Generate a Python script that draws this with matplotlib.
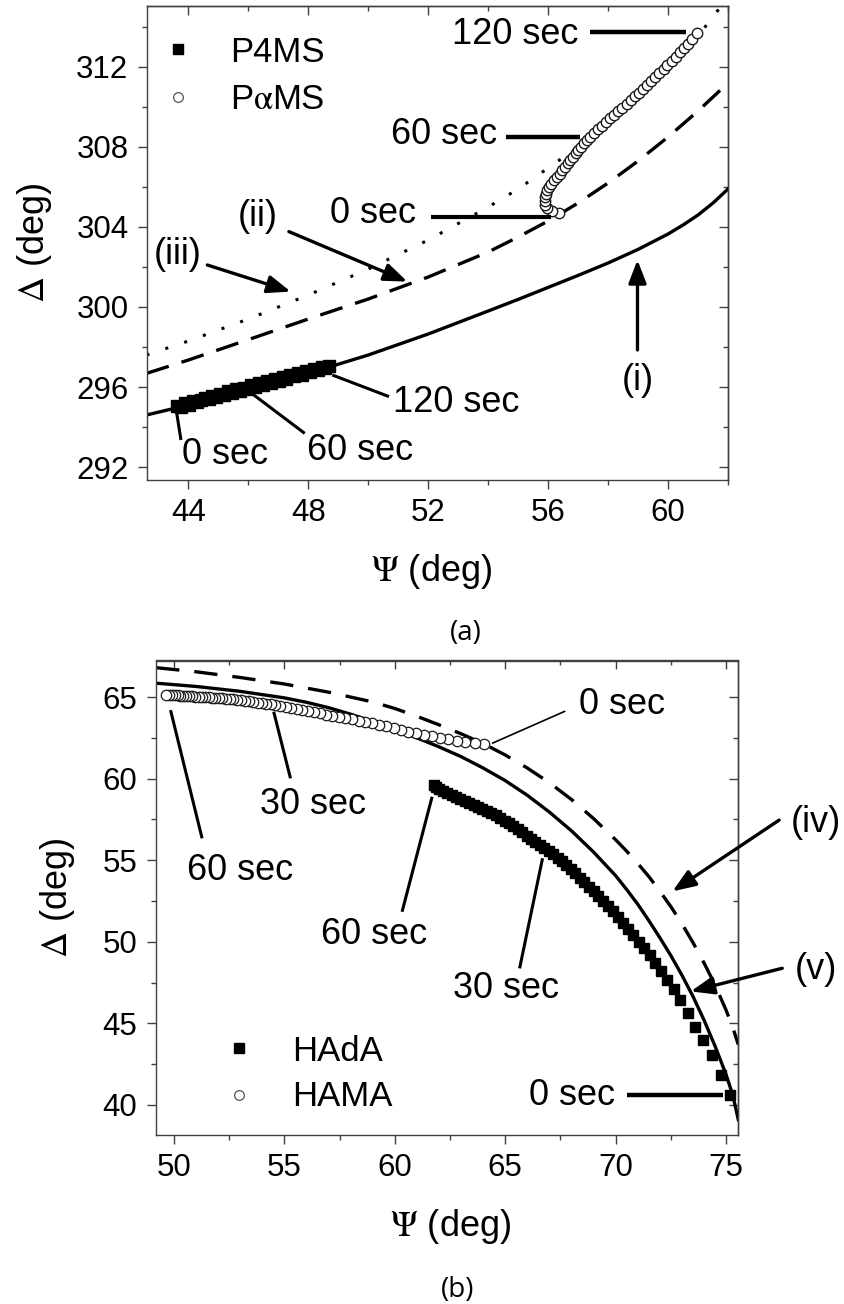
import matplotlib
matplotlib.use('Agg')
import matplotlib.pyplot as plt
from matplotlib.ticker import MultipleLocator, NullFormatter

plt.rcParams['font.family'] = ['Liberation Sans', 'DejaVu Sans']
plt.rcParams['mathtext.fontset'] = 'stix'

# ---- panel (a): P4MS / PaMS ----
psi_i = [42.6, 44, 46, 48, 50, 52, 54, 55, 56, 57, 58, 59, 60, 60.5, 61, 61.5, 62]
delta_i = [294.6, 295.1, 295.85, 296.68, 297.6, 298.65, 299.8, 300.38, 300.98, 301.58, 302.2,
           302.88, 303.65, 304.1, 304.6, 305.2, 305.9]

psi_ii = [42.6, 44, 46, 48, 50, 52, 54, 55, 56, 57, 58, 59, 60, 61, 62]
delta_ii = [296.68, 297.35, 298.37, 299.4, 300.4, 301.5, 302.75, 303.5, 304.3, 305.2, 306.2,
            307.3, 308.5, 309.8, 311.2]

psi_iii = [42.6, 44, 46, 48, 50, 52, 54, 55, 56, 57, 58, 59, 60, 61, 61.75]
delta_iii = [297.6, 298.3, 299.4, 300.6, 301.9, 303.35, 305.0, 305.9, 306.95, 308.0, 309.2,
             310.5, 311.95, 313.55, 315.0]

p4ms_psi = [43.63, 43.76, 43.89, 44.02, 44.15, 44.28, 44.41, 44.54, 44.67, 44.80,
            44.93, 45.06, 45.19, 45.32, 45.45, 45.58, 45.71, 45.84, 45.97, 46.10,
            46.23, 46.36, 46.49, 46.62, 46.75, 46.88, 47.01, 47.14, 47.27, 47.40,
            47.53, 47.66, 47.79, 47.92, 48.05, 48.18, 48.31, 48.44, 48.57, 48.69]
p4ms_delta = [295.05, 295.00, 295.20, 295.12, 295.32, 295.25, 295.35, 295.47, 295.38, 295.57,
              295.50, 295.66, 295.61, 295.78, 295.71, 295.88, 295.82, 295.97, 295.91, 296.09,
              296.02, 296.18, 296.10, 296.29, 296.20, 296.40, 296.32, 296.49, 296.42, 296.60,
              296.53, 296.70, 296.62, 296.81, 296.74, 296.92, 296.84, 297.01, 296.95, 297.06]

pams_psi = [56.35, 56.12, 55.97, 55.90, 55.88, 55.89, 55.92, 55.96, 56.02,
            56.11, 56.20, 56.29, 56.38, 56.47, 56.56, 56.65, 56.74, 56.83, 56.92,
            57.01, 57.10, 57.19, 57.29, 57.38,
            57.52, 57.66, 57.79, 57.93, 58.07, 58.20, 58.34, 58.48, 58.62, 58.75,
            58.89, 59.03, 59.16, 59.30, 59.44, 59.57, 59.71, 59.85, 59.98, 60.12,
            60.26, 60.40, 60.53, 60.67, 60.81, 60.95]
pams_delta = [304.68, 304.80, 304.95, 305.12, 305.30, 305.48, 305.66, 305.84, 305.99,
              306.16, 306.33, 306.50, 306.67, 306.84, 307.01, 307.18, 307.35, 307.52, 307.69,
              307.86, 308.02, 308.19, 308.36, 308.52,
              308.71, 308.89, 309.07, 309.25, 309.43, 309.61, 309.79, 309.97, 310.16, 310.34,
              310.53, 310.72, 310.91, 311.10, 311.30, 311.50, 311.70, 311.90, 312.10, 312.31,
              312.52, 312.73, 312.95, 313.17, 313.42, 313.68]

# ---- panel (b): HAdA / HAMA ----
psi_v = [49.2, 51, 53, 55, 56, 57, 58, 59, 60, 61, 62, 63, 64, 65, 66, 67, 68, 69, 70,
         70.5, 71, 71.5, 72, 72.5, 73, 73.5, 74, 74.5, 75, 75.3, 75.55]
delta_v = [65.85, 65.65, 65.35, 64.95, 64.68, 64.35, 63.95, 63.5, 63.02, 62.5, 61.95, 61.35,
           60.65, 59.88, 58.98, 57.95, 56.8, 55.5, 54.05, 53.2, 52.3, 51.3, 50.25, 49.15,
           47.95, 46.65, 45.2, 43.6, 41.85, 40.6, 39.1]

psi_iv = [49.2, 51, 53, 55, 57, 59, 60, 61, 62, 63, 64, 65, 66, 67, 68, 69, 70, 70.5, 71,
          71.5, 72, 72.5, 73, 73.5, 74, 74.5, 75, 75.3, 75.55]
delta_iv = [66.8, 66.55, 66.2, 65.8, 65.3, 64.7, 64.3, 63.82, 63.3, 62.75, 62.15, 61.45, 60.65,
            59.75, 58.72, 57.55, 56.25, 55.55, 54.8, 54.0, 53.1, 52.15, 51.1, 49.95, 48.7,
            47.35, 45.8, 44.75, 43.7]

hama_psi = [64.02, 63.62, 63.19, 62.80, 62.42, 62.05, 61.68, 61.32, 60.97, 60.62,
            60.28, 59.95, 59.62, 59.30, 58.98, 58.67, 58.36, 58.06, 57.76, 57.47,
            57.18, 56.90, 56.62, 56.35, 56.08, 55.82, 55.56, 55.31, 55.06, 54.82,
            54.58, 54.38, 54.18, 53.98, 53.79, 53.60, 53.41, 53.23, 53.05, 52.87,
            52.70, 52.53, 52.36, 52.20, 52.04, 51.88, 51.72, 51.57, 51.42, 51.27,
            51.12, 50.98, 50.84, 50.70, 50.56, 50.43, 50.30, 50.17, 50.04, 49.91,
            49.78, 49.65]
hama_delta = [62.10, 62.16, 62.22, 62.31, 62.40, 62.50, 62.60, 62.70, 62.80, 62.88,
              62.98, 63.10, 63.21, 63.30, 63.39, 63.47, 63.55, 63.63, 63.71, 63.79,
              63.86, 63.93, 64.00, 64.06, 64.12, 64.18, 64.24, 64.31, 64.38, 64.45,
              64.51, 64.56, 64.59, 64.62, 64.65, 64.69, 64.73, 64.76, 64.80, 64.83,
              64.85, 64.88, 64.90, 64.92, 64.94, 64.95, 64.97, 64.98, 65.00, 65.01,
              65.02, 65.03, 65.04, 65.06, 65.07, 65.08, 65.09, 65.10, 65.10, 65.11,
              65.12, 65.12]

hada_psi = [75.18, 74.76, 74.38, 73.97, 73.60, 73.26, 72.92, 72.62, 72.34, 72.07,
            71.80, 71.54, 71.29, 71.04, 70.80, 70.56, 70.33, 70.10, 69.87, 69.65,
            69.43, 69.21, 69.00, 68.79, 68.58, 68.37, 68.17, 67.97, 67.77, 67.57,
            67.37, 67.17, 66.97, 66.77, 66.57, 66.37, 66.17, 65.97, 65.77, 65.57,
            65.37, 65.17, 64.97, 64.77, 64.57, 64.37, 64.17, 63.97, 63.77, 63.57,
            63.37, 63.17, 62.97, 62.77, 62.57, 62.37, 62.18, 62.00, 61.85, 61.76]
hada_delta = [40.61, 41.84, 43.06, 43.98, 44.80, 45.62, 46.43, 47.10, 47.68, 48.22,
              48.72, 49.18, 49.60, 50.00, 50.40, 50.80, 51.17, 51.52, 51.86, 52.18,
              52.49, 52.80, 53.10, 53.38, 53.66, 53.93, 54.19, 54.44, 54.69, 54.93,
              55.16, 55.38, 55.58, 55.77, 55.95, 56.12, 56.29, 56.50, 56.72, 56.90,
              57.08, 57.26, 57.43, 57.60, 57.75, 57.90, 58.03, 58.15, 58.27, 58.39,
              58.50, 58.62, 58.74, 58.86, 58.98, 59.10, 59.24, 59.38, 59.50, 59.61]

FS_TICK = 22.5
FS_TEXT = 26
EDGE = '#404040'


def style_axes(ax, xmaj, ymaj):
    ax.xaxis.set_major_locator(MultipleLocator(xmaj))
    ax.xaxis.set_minor_locator(MultipleLocator(xmaj / 2))
    ax.yaxis.set_major_locator(MultipleLocator(ymaj))
    ax.yaxis.set_minor_locator(MultipleLocator(ymaj / 2))
    ax.tick_params(which='both', direction='out', width=1.0, color=EDGE,
                   labelsize=FS_TICK, pad=6.5)
    ax.tick_params(which='major', length=6.5)
    ax.tick_params(which='minor', length=3.3)
    for sp in ax.spines.values():
        sp.set_color(EDGE)
        sp.set_linewidth(1.0)
    # mirrored ticks pointing inwards on top and right
    top = ax.secondary_xaxis('top')
    right = ax.secondary_yaxis('right')
    for sec, axis, step in ((top, top.xaxis, xmaj), (right, right.yaxis, ymaj)):
        axis.set_major_locator(MultipleLocator(step))
        axis.set_minor_locator(MultipleLocator(step / 2))
        axis.set_major_formatter(NullFormatter())
        sec.tick_params(which='both', direction='in', width=1.0, color=EDGE)
        sec.tick_params(which='major', length=6.5)
        sec.tick_params(which='minor', length=3.3)
        for sp in sec.spines.values():
            sp.set_color(EDGE)
            sp.set_linewidth(1.0)


def pointer(ax, p0, p1, lw):
    ax.plot([p0[0], p1[0]], [p0[1], p1[1]], color='k', lw=lw,
            solid_capstyle='butt', clip_on=False, zorder=4)


def arrow(ax, tail, tip):
    ax.annotate('', xy=tip, xytext=tail, annotation_clip=False,
                arrowprops=dict(arrowstyle='-|>,head_length=0.7,head_width=0.27',
                                lw=2.4, color='k', mutation_scale=20,
                                shrinkA=0, shrinkB=0))


fig = plt.figure(figsize=(8.44, 13.04), dpi=100)
ax_a = fig.add_axes([146.5 / 844, 1 - 480 / 1304, 581.5 / 844, 474 / 1304])
ax_b = fig.add_axes([155.5 / 844, 1 - 1135 / 1304, 582.8 / 844, 474.5 / 1304])

# ---------------- (a) ----------------
ax = ax_a
ax.plot(psi_i, delta_i, color='k', lw=2.4, zorder=2)
ax.plot(psi_ii, delta_ii, color='k', lw=2.4, ls=(0, (7, 4)), zorder=2)
ax.plot(psi_iii, delta_iii, color='k', lw=2.2, ls=(0, (1, 5.5)), zorder=2)
ax.plot(p4ms_psi, p4ms_delta, 's', color='k', ms=8, zorder=3)
ax.plot(pams_psi, pams_delta, 'o', mfc='white', mec='#1a1a1a', mew=1.0, ms=7.5, zorder=3)
ax.set_xlim(42.6, 62)
ax.set_ylim(291.35, 315.05)
style_axes(ax, 4, 4)

ax.set_xlabel(r'$\Psi$ (deg)', fontsize=FS_TEXT)
ax.xaxis.set_label_coords(0.491, -0.192)
ax.xaxis.label.set_va('center')
ax.set_ylabel(r'$\Delta$ (deg)', fontsize=FS_TEXT)
ax.yaxis.set_label_coords(-0.193, 0.5)
ax.yaxis.label.set_va('center')

# legend
ax.plot([0.0542], [0.909], 's', color='k', ms=7, transform=ax.transAxes, clip_on=False)
ax.plot([0.0542], [0.808], 'o', mfc='white', mec='#555555', mew=0.9, ms=7,
        transform=ax.transAxes, clip_on=False)
ax.text(0.1436, 0.882, 'P4MS', fontsize=25, transform=ax.transAxes, va='baseline')
ax.text(0.1436, 0.783, r'P$\mathrm{\alpha}$MS', fontsize=25, transform=ax.transAxes, va='baseline')

# time labels
ax.text(57.01, 313.15, '120 sec', fontsize=FS_TEXT, ha='right', va='baseline')
pointer(ax, (57.38, 313.75), (60.6, 313.75), 3.2)
ax.text(54.31, 308.13, '60 sec', fontsize=FS_TEXT, ha='right', va='baseline')
pointer(ax, (54.58, 308.5), (57.06, 308.5), 3.2)
ax.text(51.58, 304.21, '0 sec', fontsize=FS_TEXT, ha='right', va='baseline')
pointer(ax, (52.09, 304.52), (56.09, 304.52), 3.0)

ax.text(50.84, 294.75, '120 sec', fontsize=FS_TEXT, ha='left', va='baseline')
pointer(ax, (48.8, 296.6), (50.69, 295.52), 2.2)
ax.text(47.95, 292.35, '60 sec', fontsize=FS_TEXT, ha='left', va='baseline')
pointer(ax, (45.96, 295.85), (47.88, 293.68), 2.2)
ax.text(43.79, 292.15, '0 sec', fontsize=FS_TEXT, ha='left', va='baseline')
pointer(ax, (43.6, 294.77), (43.75, 293.35), 2.2)

# curve labels
ax.text(46.30, 304.05, '(ii)', fontsize=FS_TEXT, ha='center', va='baseline')
arrow(ax, (47.35, 303.77), (51.30, 301.27))
ax.text(43.63, 302.17, '(iii)', fontsize=FS_TEXT, ha='center', va='baseline')
arrow(ax, (44.63, 302.1), (47.41, 300.77))
ax.text(59.0, 295.84, '(i)', fontsize=FS_TEXT, ha='center', va='baseline')
arrow(ax, (58.98, 297.85), (58.98, 302.35))

# ---------------- (b) ----------------
ax = ax_b
ax.plot(psi_v, delta_v, color='k', lw=2.4, zorder=2)
ax.plot(psi_iv, delta_iv, color='k', lw=2.4, ls=(0, (7, 4.5)), zorder=2)
ax.plot(hada_psi, hada_delta, 's', color='k', ms=6.5, zorder=3)
ax.plot(hama_psi, hama_delta, 'o', mfc='white', mec='#1a1a1a', mew=0.9, ms=7.5, zorder=3)
ax.set_xlim(49.17, 75.55)
ax.set_ylim(38.16, 67.24)
style_axes(ax, 5, 5)

ax.set_xlabel(r'$\Psi$ (deg)', fontsize=FS_TEXT)
ax.xaxis.set_label_coords(0.507, -0.192)
ax.xaxis.label.set_va('center')
ax.set_ylabel(r'$\Delta$ (deg)', fontsize=FS_TEXT)
ax.yaxis.set_label_coords(-0.168, 0.5)
ax.yaxis.label.set_va('center')

# legend
ax.plot([0.143], [0.1827], 's', color='k', ms=7, transform=ax.transAxes, clip_on=False)
ax.plot([0.143], [0.0843], 'o', mfc='white', mec='#555555', mew=0.9, ms=7,
        transform=ax.transAxes, clip_on=False)
ax.text(0.235, 0.156, 'HAdA', fontsize=25, transform=ax.transAxes, va='baseline')
ax.text(0.235, 0.061, 'HAMA', fontsize=25, transform=ax.transAxes, va='baseline')

# time labels
ax.text(68.33, 63.97, '0 sec', fontsize=FS_TEXT, ha='left', va='baseline')
pointer(ax, (67.72, 64.14), (64.4, 62.16), 1.2)
ax.text(53.92, 57.85, '30 sec', fontsize=FS_TEXT, ha='left', va='baseline')
pointer(ax, (54.52, 64.1), (55.28, 60.02), 2.2)
ax.text(50.6, 53.77, '60 sec', fontsize=FS_TEXT, ha='left', va='baseline')
pointer(ax, (49.85, 64.2), (51.28, 56.34), 2.2)

ax.text(56.64, 49.89, '60 sec', fontsize=FS_TEXT, ha='left', va='baseline')
pointer(ax, (61.69, 58.89), (60.33, 51.84), 2.2)
ax.text(62.63, 46.57, '30 sec', fontsize=FS_TEXT, ha='left', va='baseline')
pointer(ax, (66.69, 55.12), (65.65, 48.37), 2.2)
ax.text(69.98, 39.99, '0 sec', fontsize=FS_TEXT, ha='right', va='baseline')
pointer(ax, (70.5, 40.61), (74.88, 40.61), 3.2)

# curve labels
ax.text(79.08, 56.71, '(iv)', fontsize=FS_TEXT, ha='center', va='baseline')
arrow(ax, (77.4, 57.46), (72.57, 53.09))
ax.text(79.05, 47.74, '(v)', fontsize=FS_TEXT, ha='center', va='baseline')
arrow(ax, (77.54, 48.38), (73.4, 46.96))

# panel captions
fig.text(465.7 / 844, 1 - 633 / 1304, '(a)', fontsize=20, family='Open Sans',
         ha='center', va='center')
fig.text(457.5 / 844, 1 - 1290 / 1304, '(b)', fontsize=20, family='Open Sans',
         ha='center', va='center')

fig.savefig('out.png', dpi=100)
